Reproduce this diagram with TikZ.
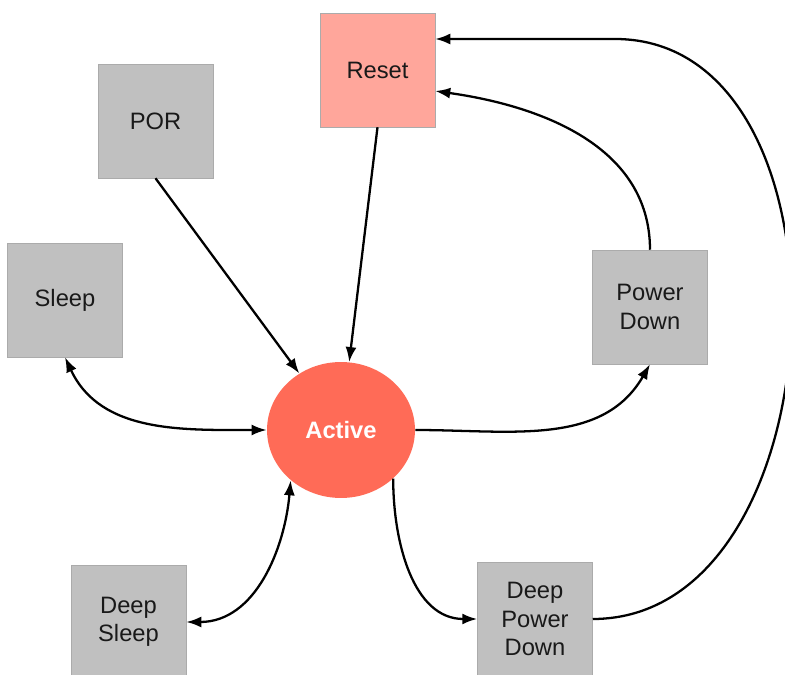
\documentclass[tikz,border=0pt]{standalone}
\usepackage{fontspec}
\setmainfont{Liberation Sans}
\usetikzlibrary{arrows,arrows.meta}
\usetikzlibrary{shapes,shapes.geometric}
\definecolor{stategray}{HTML}{C0C0C0}
\definecolor{stateedge}{HTML}{ABABAB}
\definecolor{resetred}{HTML}{FFA69B}
\definecolor{activered}{HTML}{FF6B57}
\tikzstyle{state} = [rectangle, fill=stategray, draw=stateedge, line width=0.3pt, minimum width=2.3cm, minimum height=2.28cm, inner sep=0pt, align=center, text=black!90, font=\fontsize{13.5}{16}\selectfont]
\tikzstyle{core} = [ellipse, fill=activered, minimum width=2.96cm, minimum height=2.72cm, inner sep=0pt, text=white, font=\fontsize{13.5}{16}\selectfont\bfseries]
\tikzstyle{trans} = [line width=1.3pt]

\begin{document}
\begin{tikzpicture}[auto, >={Latex[length=3mm,width=2.2mm]}, x=0.02cm, y=-0.02cm]

    \useasboundingbox (0,0) rectangle (785,675);

    \node[core] (active) at (341,430) {Active};

    \node[state, fill=resetred] (reset) at (377.5,70) {Reset};
    \node[state] (por) at (155.5,121) {POR};
    \node[state] (sleep) at (65,300) {Sleep};
    \node[state] (pd) at (650,307) {Power\\Down};
    \node[state] (ds) at (128.5,622) {Deep\\Sleep};
    \node[state] (dpd) at (535,619) {Deep\\Power\\Down};

    \coordinate (top) at (615,39);

    % into active
    \draw[trans,->] (por.south) -- (active);
    \draw[trans,->] (reset.south) -- (active);

    % left
    \draw[trans,<->] (sleep.south) to[out=-65,in=180] (active.west);
    \draw[trans,<->] (active.-135) to[out=-95,in=0] (ds.east);

    % right
    \draw[trans,->] (active.east) to[out=0,in=-120] (pd.south);
    \draw[trans,->] (pd.north) to[out=90,in=-8] (reset.-20);
    \draw[trans,->] (active.-43) to[out=-90,in=180] (dpd.west);
    \draw[trans,->] (dpd.east) to[out=0,in=0,looseness=1.1] (top) -- (reset.east |- top);

\end{tikzpicture}
\end{document}
